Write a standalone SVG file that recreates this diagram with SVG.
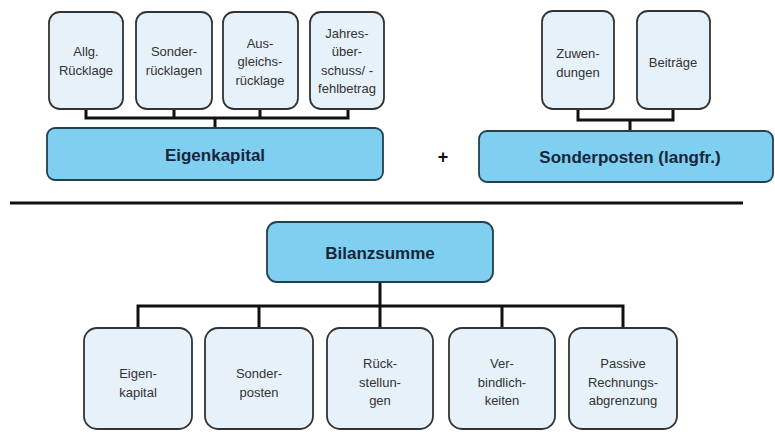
<svg xmlns="http://www.w3.org/2000/svg" width="775" height="432" viewBox="0 0 775 432">
<style>
.sb{fill:#e6f1fa;stroke:#333;stroke-width:1.8}
.bb{fill:#7fcff0;stroke:#23404f;stroke-width:1.8}
.st{font-family:"Liberation Sans",Arial,sans-serif;font-size:13px;fill:#333;text-anchor:middle}
.bt{font-family:"Liberation Sans",Arial,sans-serif;font-size:17px;font-weight:bold;fill:#16263a;text-anchor:middle}
.cn{fill:none;stroke:#111;stroke-width:3}
</style>
<rect width="775" height="432" fill="#fff"/>
<g id="connectors" class="cn">
<path d="M86 109V118H348V109M174 109V118M260 109V118M215 118V128"/>
<path d="M578 109V120H673V109M630 120V131"/>
<path d="M380 282V306M138 328V306H623V328M259 306V328M380 306V328M502 306V328"/>
<path d="M10 203H743"/>
</g>
<g id="n-allg"><rect class="sb" x="49" y="12" width="74" height="97" rx="11"/><text class="st" x="86" y="56">Allg.</text><text class="st" x="86" y="75">Rücklage</text></g>
<g id="n-sonderruecklagen"><rect class="sb" x="136" y="12" width="76" height="97" rx="11"/><text class="st" x="174" y="56">Sonder-</text><text class="st" x="174" y="75">rücklagen</text></g>
<g id="n-ausgleich"><rect class="sb" x="223" y="12" width="75" height="97" rx="11"/><text class="st" x="260" y="48">Aus-</text><text class="st" x="260" y="66">gleichs-</text><text class="st" x="260" y="85">rücklage</text></g>
<g id="n-jahres"><rect class="sb" x="310" y="12" width="74" height="97" rx="11"/><text class="st" x="347" y="38">Jahres-</text><text class="st" x="347" y="56">über-</text><text class="st" x="347" y="75">schuss/ -</text><text class="st" x="347" y="93">fehlbetrag</text></g>
<g id="n-eigenkapital-top"><rect class="bb" x="47" y="128" width="336" height="52" rx="8"/><text class="bt" x="215" y="161">Eigenkapital</text></g>
<g id="n-zuwendungen"><rect class="sb" x="542" y="11" width="72" height="98" rx="11"/><text class="st" x="578" y="58">Zuwen-</text><text class="st" x="578" y="77">dungen</text></g>
<g id="n-beitraege"><rect class="sb" x="637" y="11" width="73" height="98" rx="11"/><text class="st" x="673" y="67">Beiträge</text></g>
<g id="n-sonderposten-top"><rect class="bb" x="479" y="131" width="294" height="51" rx="8"/><text class="bt" x="630" y="163">Sonderposten (langfr.)</text></g>
<g id="plus"><text class="bt" x="443" y="163" style="font-size:18px;fill:#111">+</text></g>
<g id="n-bilanzsumme"><rect class="bb" x="267" y="222" width="226" height="60" rx="10"/><text class="bt" x="380" y="259">Bilanzsumme</text></g>
<g id="n-eigenkapital"><rect class="sb" x="84" y="328" width="108" height="101" rx="13"/><text class="st" x="138" y="378">Eigen-</text><text class="st" x="138" y="397">kapital</text></g>
<g id="n-sonderposten"><rect class="sb" x="205" y="328" width="108" height="101" rx="13"/><text class="st" x="259" y="378">Sonder-</text><text class="st" x="259" y="397">posten</text></g>
<g id="n-rueckstellungen"><rect class="sb" x="327" y="328" width="106" height="101" rx="13"/><text class="st" x="380" y="368">Rück-</text><text class="st" x="380" y="387">stellun-</text><text class="st" x="380" y="405">gen</text></g>
<g id="n-verbindlichkeiten"><rect class="sb" x="449" y="328" width="106" height="101" rx="13"/><text class="st" x="502" y="368">Ver-</text><text class="st" x="502" y="387">bindlich-</text><text class="st" x="502" y="405">keiten</text></g>
<g id="n-pra"><rect class="sb" x="569" y="328" width="108" height="101" rx="13"/><text class="st" x="623" y="368">Passive</text><text class="st" x="623" y="387">Rechnungs-</text><text class="st" x="623" y="405">abgrenzung</text></g>
</svg>
